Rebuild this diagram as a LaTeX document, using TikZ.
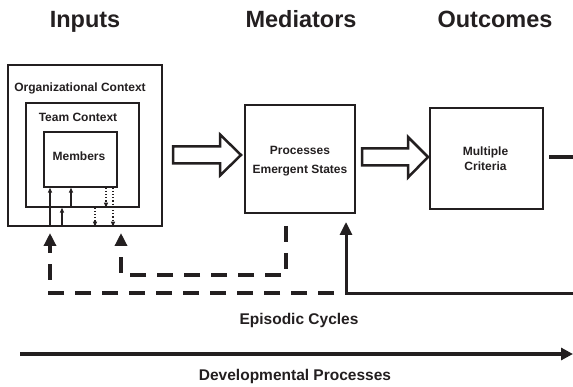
\documentclass[tikz,border=0pt]{standalone}
\usepackage{fontspec}
\setmainfont{Liberation Sans}
\usetikzlibrary{arrows.meta}
\definecolor{ink}{HTML}{231F20}
\begin{document}
\begin{tikzpicture}[x=1pt,y=-1pt,
  box/.style={draw=ink, inner sep=0pt, line width=#1},
  box/.default=1.3pt,
  lbl/.style={font=\fontsize{12}{14}\selectfont\bfseries, text=ink, anchor=base, inner sep=0pt},
  hdr/.style={font=\fontsize{23.5}{26}\selectfont\bfseries, text=ink, anchor=base, inner sep=0pt},
  midlbl/.style={font=\fontsize{15.5}{18}\selectfont\bfseries, text=ink, anchor=base, inner sep=0pt},
  thinup/.style={draw=ink, line width=1.3pt, -{Triangle[length=5pt,width=4pt]}},
  dotdown/.style={draw=ink, line width=1.2pt, dotted, -{Triangle[length=5pt,width=4pt]}},
  fb/.style={draw=ink, line width=3.5pt, dash pattern=on 16pt off 11pt, -{Triangle[length=13pt,width=12pt]}},
  fbsolid/.style={draw=ink, line width=3pt, -{Triangle[length=13pt,width=12pt]}},
  hollow/.style={draw=ink, line width=2.5pt, fill=white, line join=miter}
]
\useasboundingbox (0,0) rectangle (573,387);

% headers
\node[hdr] (hin) at (85,28) {Inputs};
\node[hdr] (hmed) at (301,28) {Mediators};
\node[hdr] (hout) at (495,28) {Outcomes};

% input boxes
\node[box, minimum width=154pt, minimum height=161pt] (org) at (85,145.5) {};
\node[box, minimum width=113pt, minimum height=104pt] (team) at (82.5,155) {};
\node[box, minimum width=73pt, minimum height=55pt] (mem) at (80.5,159.5) {};
\node[lbl] (torg) at (80,92) {Organizational Context};
\node[lbl] (tteam) at (78,122) {Team Context};
\node[lbl] (tmem) at (79,161) {Members};

% small arrows inside input boxes
\draw[thinup] (org.south -| 50,0) -- (mem.south -| 50,0);
\draw[thinup] (org.south -| 62,0) -- (team.south -| 62,0);
\draw[thinup] (team.south -| 71,0) -- (mem.south -| 71,0);
\draw[dotdown] (team.south -| 95,0) -- (org.south -| 95,0);
\draw[dotdown] (mem.south -| 106,0) -- (team.south -| 106,0);
\draw[dotdown] (mem.south -| 113,0) -- (org.south -| 113,0);

% mediators and outcomes boxes
\node[box=2pt, minimum width=110pt, minimum height=108pt] (proc) at (300,159) {};
\node[lbl] (tproc1) at (300,155) {Processes};
\node[lbl] (tproc2) at (300,174) {Emergent States};
\node[box=2.5pt, minimum width=113pt, minimum height=101pt] (crit) at (486.5,158.5) {};
\node[lbl] (tcrit1) at (485.5,156) {Multiple};
\node[lbl] (tcrit2) at (485.5,171) {Criteria};

% hollow block arrows
\draw[hollow] (173,146.5) -- (220,146.5) -- (220,134.5) -- (241,155) -- (220,175.5) -- (220,163.5) -- (173,163.5) -- cycle;
\draw[hollow] (362,148.5) -- (408,148.5) -- (408,137) -- (428,157) -- (408,177.5) -- (408,165.5) -- (362,165.5) -- cycle;

% outgoing line from outcomes
\coordinate (rend) at (573,157);
\draw[draw=ink, line width=3.5pt] (rend -| 549,0) -- (rend);

% feedback loops
\coordinate (solidstart) at (573,294);
\coordinate (soltip) at (346,222);
\draw[fbsolid] (solidstart) -- (solidstart -| soltip) -- (soltip);
\coordinate (fbstart) at (334,293);
\coordinate (fbtipL) at (50,233);
\draw[fb] (fbstart) -- (fbstart -| fbtipL) -- (fbtipL);
\coordinate (fbstart2) at (286,226);
\coordinate (fbtipR) at (121,233);
\draw[fb] (fbstart2) -- (286,275) -- (121,275) -- (fbtipR);

% bottom labels and developmental arrow
\node[midlbl] (epi) at (299,325) {Episodic Cycles};
\coordinate (devs) at (20,354);
\coordinate (deve) at (573,354);
\draw[draw=ink, line width=4pt, -{Triangle[length=12pt,width=12pt]}] (devs) -- (deve);
\node[midlbl] (dev) at (295,381) {Developmental Processes};
\end{tikzpicture}
\end{document}
